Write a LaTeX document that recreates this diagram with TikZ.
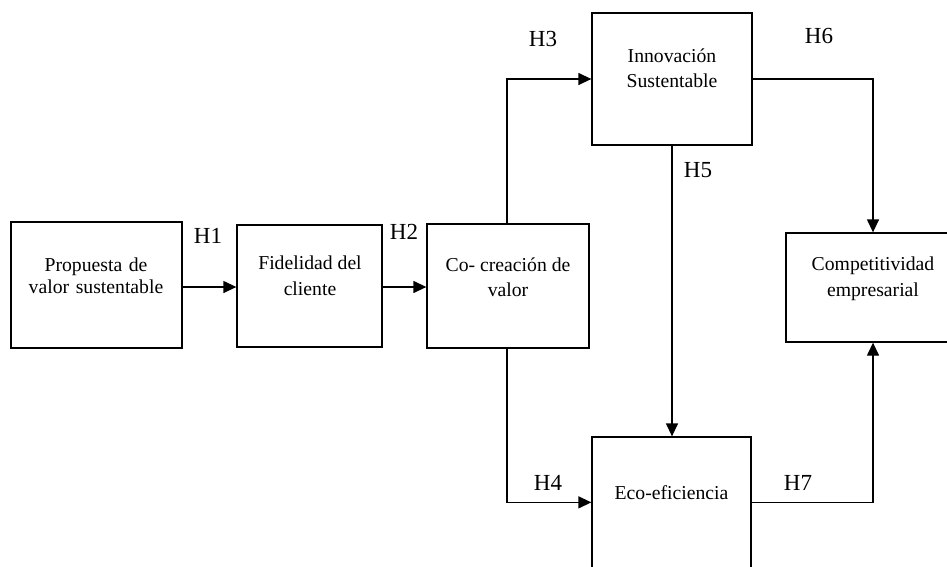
\documentclass[tikz,border=0pt]{standalone}
\usepackage{fontspec}
\setmainfont{Liberation Serif}
\usetikzlibrary{arrows.meta,calc}
\begin{document}
\begin{tikzpicture}[x=1pt,y=-1pt,
  box/.style={draw=black, line width=1.3pt, rectangle, inner sep=0pt},
  txt/.style={align=center, font=\fontsize{19.7}{25.5}\selectfont, inner sep=0pt},
  hlab/.style={font=\fontsize{23}{26}\selectfont, inner sep=0pt},
  arr/.style={line width=1.3pt, -{Triangle[length=13pt,width=12pt]}}]
\useasboundingbox (0,0) rectangle (947,566);
\clip (0,0) rectangle (947,566);
% boxes
\node[box, minimum width=171pt, minimum height=126pt] (b1) at (96.5,285) {};
\node[box, minimum width=145pt, minimum height=122pt] (b2) at (309.5,286) {};
\node[box, minimum width=162pt, minimum height=124pt] (b3) at (508,286) {};
\node[box, minimum width=160pt, minimum height=132pt] (b4) at (672,79) {};
\node[box, minimum width=174pt, minimum height=109pt] (b5) at (873,287.5) {};
\node[box, minimum width=159pt, minimum height=180pt] (b6) at (671.5,527) {};
% texts
\node[txt, text width=165pt] (t1) at (96,276) {Propuesta de\\[-3pt]valor sustentable};
\node[txt] (t2) at (310,276) {Fidelidad del\\cliente};
\node[txt] (t3) at (508,277) {Co- creación de\\valor};
\node[txt] (t4) at (672,68) {Innovación\\Sustentable};
\node[txt] (t5) at (873,279) {Competitividad\\empresarial};
\node[txt] (t6) at (671.5,493) {Eco-eficiencia};
% connectors
\draw[arr] (b1.east |- 0,287) -- (b2.west |- 0,287);
\draw[arr] (b2.east |- 0,287) -- (b3.west |- 0,287);
\draw[arr] (b3.north -| 507,0) |- (b4.west);
\draw[arr] (b3.south -| 507,0) |- ($(b6.north west)+(0,66)$);
\draw[arr] (b4.south) -- (b4.south |- b6.north);
\draw[arr] (b4.east) -| (b5.north);
\draw[arr] ($(b6.north east)+(0,66)$) -| (b5.south);
% labels
\node[hlab] (h1) at (208,236) {H1};
\node[hlab] (h2) at (404,232) {H2};
\node[hlab] (h3) at (543,39) {H3};
\node[hlab] (h4) at (548,483) {H4};
\node[hlab] (h5) at (698,170) {H5};
\node[hlab] (h6) at (819,36) {H6};
\node[hlab] (h7) at (798,483) {H7};
\end{tikzpicture}
\end{document}
